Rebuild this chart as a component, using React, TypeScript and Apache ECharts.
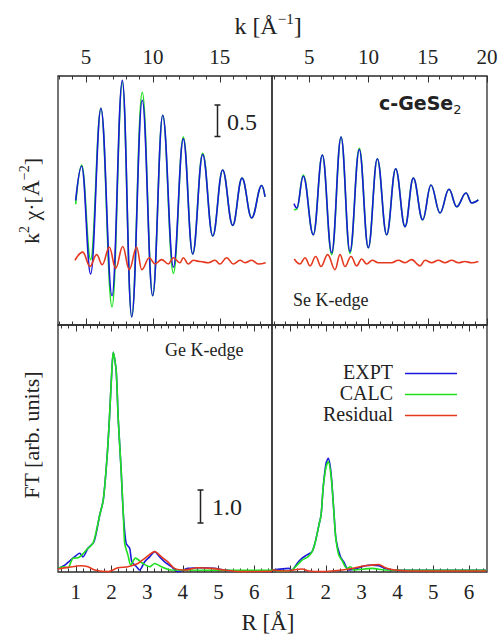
import React, { useEffect, useRef } from "react";
import * as echarts from "echarts";

// ---------- axis ticks / labels ----------
const kTicksLeft = [3, 4, 5, 6, 7, 8, 9, 10, 11, 12, 13, 14, 15, 16, 17, 18];
const kMajorLeft = [5, 10, 15];
const kTicksRight = [2, 3, 4, 5, 6, 7, 8, 9, 10, 11, 12, 13, 14, 15, 16, 17, 18, 19, 20];
const kMajorRight = [5, 10, 15, 20];
const rMajor = [1, 2, 3, 4, 5, 6];
const rMinor = [0.6, 0.8, 1.2, 1.4, 1.6, 1.8, 2.2, 2.4, 2.6, 2.8, 3.2, 3.4, 3.6, 3.8, 4.2, 4.4, 4.6, 4.8, 5.2, 5.4, 5.6, 5.8, 6.2, 6.4];

// ---------- k-space, Ge K-edge ----------
const geK = [4.22, 4.67, 5.34, 6.11, 6.94, 7.71, 8.41, 9.2, 9.98, 10.73, 11.53, 12.27, 12.97, 13.72, 14.47, 15.21, 15.96, 16.66, 17.38, 18.13, 18.38];
const geExpt = [0.0, 0.55, -1.18, 1.48, -1.53, 1.93, -1.87, 1.61, -1.53, 1.37, -1.07, 0.99, -0.86, 0.74, -0.57, 0.49, -0.4, 0.36, -0.28, 0.24, 0.06];
const geCalc = [-0.06, 0.57, -0.95, 1.48, -1.71, 1.9, -1.87, 1.74, -1.53, 1.37, -1.17, 1.02, -0.86, 0.76, -0.57, 0.49, -0.4, 0.36, -0.28, 0.24, 0.06];
const geResK = [4.17, 4.75, 5.29, 5.79, 6.21, 6.74, 7.21, 7.74, 8.23, 8.78, 9.16, 9.73, 10.15, 10.65, 11.15, 11.52, 12.02, 12.27, 12.64, 13.02, 13.52, 14.14, 14.64, 15.01, 15.51, 16.01, 16.51, 16.88, 17.38, 17.88, 18.43];
const geRes = [0.04, 0.17, -0.06, 0.13, -0.03, 0.25, -0.09, 0.26, -0.11, 0.25, -0.11, 0.08, -0.02, 0.05, -0.02, 0.08, 0.0, 0.08, -0.02, 0.04, 0.02, 0.0, 0.04, -0.02, 0.08, -0.02, 0.04, 0.0, 0.04, -0.02, 0.0];

// ---------- k-space, Se K-edge ----------
const seK = [3.71, 3.94, 4.49, 5.34, 6.1, 6.89, 7.68, 8.43, 9.22, 9.98, 10.74, 11.53, 12.29, 13.08, 13.78, 14.57, 15.27, 16.03, 16.79, 17.44, 18.23, 18.71, 19.27];
const seExpt = [-0.05, -0.12, 0.39, -0.55, 0.73, -0.84, 1.02, -0.82, 0.82, -0.76, 0.67, -0.55, 0.51, -0.42, 0.36, -0.31, 0.25, -0.2, 0.18, -0.1, 0.12, -0.04, 0.01];
const seCalc = [-0.15, -0.14, 0.41, -0.55, 0.73, -0.87, 1.02, -0.85, 0.84, -0.76, 0.67, -0.55, 0.51, -0.42, 0.36, -0.31, 0.25, -0.2, 0.18, -0.1, 0.12, -0.04, 0.01];
const seResK = [3.73, 4.21, 4.64, 5.06, 5.54, 5.99, 6.55, 7.17, 7.59, 8.01, 8.52, 9.0, 9.42, 9.84, 10.32, 10.82, 11.39, 11.95, 12.51, 13.08, 13.64, 14.34, 14.77, 15.33, 15.89, 16.45, 17.02, 17.58, 18.14, 18.71, 19.27];
const seRes = [0.06, -0.02, 0.08, -0.05, 0.1, -0.06, 0.13, -0.11, 0.13, -0.06, 0.1, -0.05, 0.06, -0.02, 0.04, 0.0, 0.0, 0.0, 0.04, 0.0, 0.05, -0.05, 0.04, 0.0, 0.04, 0.0, 0.04, 0.0, 0.02, 0.0, 0.02];
const kOffset = 1.0;

// ---------- R-space, Ge K-edge ----------
const ftGeExptR = [0.5, 0.69, 0.92, 1.11, 1.2, 1.34, 1.51, 1.67, 1.77, 1.87, 1.94, 2.01, 2.05, 2.13, 2.19, 2.27, 2.33, 2.41, 2.51, 2.57, 2.7, 2.79, 2.93, 3.07, 3.21, 3.35, 3.49, 3.68, 3.86, 4.14, 4.52, 4.89, 5.17, 5.55, 6.5];
const ftGeExpt = [0.06, 0.16, 0.37, 0.52, 0.41, 0.67, 0.87, 1.68, 2.14, 3.35, 4.57, 6.08, 6.62, 6.08, 4.57, 3.05, 1.73, 0.82, 0.67, 0.26, 0.11, 0.01, 0.26, 0.41, 0.57, 0.41, 0.26, 0.11, -0.04, 0.06, 0.08, 0.06, 0.01, -0.02, -0.03];
const ftGeCalcR = [0.5, 0.64, 0.78, 0.92, 1.06, 1.34, 1.48, 1.57, 1.67, 1.77, 1.87, 1.94, 2.01, 2.05, 2.13, 2.19, 2.27, 2.33, 2.37, 2.46, 2.54, 2.67, 2.88, 3.07, 3.21, 3.4, 3.68, 6.5];
const ftGeCalc = [0.06, 0.11, 0.08, 0.37, 0.38, 0.67, 0.82, 1.17, 1.68, 2.14, 3.35, 4.57, 6.08, 6.62, 6.08, 4.57, 3.05, 1.73, 0.82, 0.47, 0.16, 0.37, 0.21, 0.11, 0.21, 0.11, 0.01, 0.0];
const ftGeResR = [0.5, 0.78, 1.15, 1.34, 1.53, 1.9, 2.18, 2.46, 2.74, 2.94, 3.21, 3.4, 3.58, 3.77, 4.05, 4.42, 4.8, 5.17, 5.64, 6.5];
const ftGeRes = [0.04, 0.09, 0.14, 0.11, 0.01, -0.04, 0.08, 0.11, 0.21, 0.37, 0.57, 0.41, 0.26, 0.06, 0.01, 0.08, 0.06, 0.01, -0.04, -0.03];

// ---------- R-space, Se K-edge ----------
const ftSeExptR = [0.5, 0.97, 1.06, 1.2, 1.34, 1.48, 1.62, 1.71, 1.81, 1.87, 1.93, 2.01, 2.07, 2.15, 2.23, 2.29, 2.41, 2.5, 2.64, 2.87, 3.1, 3.29, 3.48, 3.66, 3.85, 6.47];
const ftSeExpt = [0.01, 0.06, 0.01, 0.21, 0.37, 0.47, 0.57, 0.87, 1.38, 1.68, 2.54, 3.26, 3.4, 2.93, 1.73, 0.92, 0.41, 0.26, 0.01, 0.06, 0.14, 0.16, 0.14, 0.06, 0.01, 0.0];
const ftSeCalcR = [0.5, 0.78, 1.06, 1.2, 1.34, 1.5, 1.62, 1.71, 1.81, 1.87, 1.93, 2.01, 2.07, 2.15, 2.23, 2.27, 2.36, 2.45, 2.59, 2.69, 2.78, 3.29, 3.66, 6.47];
const ftSeCalc = [0.01, -0.02, 0.01, 0.16, 0.31, 0.41, 0.57, 0.87, 1.38, 1.68, 2.54, 3.15, 3.3, 2.84, 1.73, 1.07, 0.47, 0.31, 0.06, 0.11, 0.01, 0.06, 0.01, 0.0];
const ftSeResR = [0.5, 0.87, 1.34, 1.52, 1.9, 2.17, 2.64, 3.1, 3.29, 3.48, 3.66, 3.94, 4.41, 4.97, 6.47];
const ftSeRes = [0.01, -0.02, 0.04, -0.02, -0.04, -0.02, 0.04, 0.14, 0.16, 0.18, 0.08, 0.01, -0.02, -0.02, -0.02];

const legendNames = ["EXPT", "CALC", "Residual"];

const BLUE = "#1a1ad8";
const GREEN = "#1fe01f";
const RED = "#e5391f";
const INK = "#222222";
const SERIF = "Liberation Serif";

const zip = (xs: number[], ys: number[], off = 0) => xs.map((x, i) => [x, ys[i] + off]);

function xAxes(grid: number, min: number, max: number, minor: number[], major: number[], labelPos: "top" | "bottom" | null) {
  const base = (position: "top" | "bottom", ticks: number[], len: number, labels: boolean) => ({
    type: "value",
    gridIndex: grid,
    position,
    min,
    max,
    axisLine: { show: false, onZero: false },
    splitLine: { show: false },
    axisTick: { show: true, inside: true, length: len, customValues: ticks, lineStyle: { color: "#333", width: 1 } },
    axisLabel: labels
      ? { show: true, customValues: major, fontSize: 21, fontFamily: SERIF, color: INK, margin: 9 }
      : { show: false },
  });
  return [
    base("top", minor, 3.5, labelPos === "top"),
    base("top", major, 6.5, false),
    base("bottom", minor, 3.5, labelPos === "bottom"),
    base("bottom", major, 6.5, false),
  ];
}

function line(name: string, xAxisIndex: number, yAxisIndex: number, data: number[][], color: string, top: boolean) {
  return {
    type: "line",
    name,
    xAxisIndex,
    yAxisIndex,
    data,
    symbol: "none",
    showSymbol: false,
    smooth: top ? 0.4 : 0.25,
    smoothMonotone: top ? "x" : undefined,
    lineStyle: { color, width: 1.6 },
    itemStyle: { color },
    clip: true,
  };
}

function scaleBar(x: number, y1: number, y2: number) {
  const s = { stroke: INK, lineWidth: 1.5 };
  return [
    { type: "line", shape: { x1: x, y1, x2: x, y2 }, style: s },
    { type: "line", shape: { x1: x - 3, y1, x2: x + 3, y2: y1 }, style: s },
    { type: "line", shape: { x1: x - 3, y1: y2, x2: x + 3, y2 }, style: s },
  ];
}

export default function App() {
  const ref = useRef<HTMLDivElement>(null);
  useEffect(() => {
    if (!ref.current) return;
    const chart = echarts.init(ref.current, undefined, { renderer: "svg" });
    const gridStyle = { show: true, borderColor: "#2a2a2a", borderWidth: 1.3, backgroundColor: "transparent" };
    const txt = (text: string, x: number, y: number, size: number, align = "left", extra: any = {}) => ({
      type: "text",
      x,
      y,
      z: 10,
      ...extra,
      style: {
        text,
        fill: INK,
        fontSize: size,
        fontFamily: SERIF,
        align,
        verticalAlign: "middle",
        ...(extra.style || {}),
      },
    });
    const legY = [372, 393, 414];
    const option: any = {
      animation: false,
      backgroundColor: "#ffffff",
      grid: [
        { left: 58, top: 76, width: 214, height: 249, ...gridStyle },
        { left: 272, top: 76, width: 215, height: 249, ...gridStyle },
        { left: 58, top: 325, width: 214, height: 247, ...gridStyle },
        { left: 272, top: 325, width: 215, height: 247, ...gridStyle },
      ],
      xAxis: [
        ...xAxes(0, 2.9, 18.9, kTicksLeft, kMajorLeft, "top"),
        ...xAxes(1, 1.85, 20, kTicksRight, kMajorRight, "top"),
        ...xAxes(2, 0.5, 6.5, rMinor, rMajor, "bottom"),
        ...xAxes(3, 0.5, 6.5, rMinor, rMajor, "bottom"),
      ],
      yAxis: [
        { type: "value", gridIndex: 0, min: -1, max: 3, show: false },
        { type: "value", gridIndex: 1, min: -1, max: 3, show: false },
        { type: "value", gridIndex: 2, min: -0.05, max: 7.45, show: false },
        { type: "value", gridIndex: 3, min: -0.05, max: 7.45, show: false },
      ],
      series: [
        line(legendNames[1], 0, 0, zip(geK, geCalc, kOffset), GREEN, true),
        line(legendNames[0], 0, 0, zip(geK, geExpt, kOffset), BLUE, true),
        line(legendNames[2], 0, 0, zip(geResK, geRes), RED, true),
        line(legendNames[1], 4, 1, zip(seK, seCalc, kOffset), GREEN, true),
        line(legendNames[0], 4, 1, zip(seK, seExpt, kOffset), BLUE, true),
        line(legendNames[2], 4, 1, zip(seResK, seRes), RED, true),
        line(legendNames[0], 8, 2, zip(ftGeExptR, ftGeExpt), BLUE, false),
        line(legendNames[1], 8, 2, zip(ftGeCalcR, ftGeCalc), GREEN, false),
        line(legendNames[2], 8, 2, zip(ftGeResR, ftGeRes), RED, false),
        line(legendNames[0], 12, 3, zip(ftSeExptR, ftSeExpt), BLUE, false),
        line(legendNames[1], 12, 3, zip(ftSeCalcR, ftSeCalc), GREEN, false),
        line(legendNames[2], 12, 3, zip(ftSeResR, ftSeRes), RED, false),
      ],
      graphic: [
        txt("k [Å{sup|−1}]", 268, 26, 24, "center", {
          style: { rich: { sup: { fontSize: 15, fontFamily: SERIF, fill: INK, verticalAlign: "top" } }, lineHeight: 30 },
        }),
        txt("R [Å]", 268, 622, 23, "center"),
        txt("k{sup|2} χ·[Å{sup|−2}]", 31, 201, 22, "center", {
          rotation: Math.PI / 2,
          style: { rich: { sup: { fontSize: 14, fontFamily: SERIF, fill: INK, verticalAlign: "top" } }, lineHeight: 28 },
        }),
        txt("FT [arb. units]", 31, 435, 22, "center", { rotation: Math.PI / 2 }),
        ...scaleBar(217.5, 105, 136.5),
        txt("0.5", 227, 122, 24),
        ...scaleBar(200.5, 490, 523),
        txt("1.0", 212, 507, 24),
        txt("c-GeSe{sub|2}", 379, 103, 19, "left", {
          style: {
            fontFamily: "DejaVu Sans",
            fontWeight: "bold",
            lineHeight: 26,
            rich: { sub: { fontSize: 13, fontFamily: "DejaVu Sans", fill: INK, verticalAlign: "bottom", lineHeight: 13 } },
          },
        }),
        txt("Se K-edge", 293, 300, 18),
        txt("Ge K-edge", 165, 350, 18),
        txt(legendNames[0], 393, legY[0], 20, "right", { style: { lineHeight: 20 } }),
        txt(legendNames[1], 393, legY[1], 20, "right", { style: { lineHeight: 20 } }),
        txt(legendNames[2], 393, legY[2], 20, "right", { style: { lineHeight: 20 } }),
        { type: "line", shape: { x1: 405, y1: legY[0] + 1.5, x2: 457, y2: legY[0] + 1.5 }, style: { stroke: BLUE, lineWidth: 1.6 } },
        { type: "line", shape: { x1: 405, y1: legY[1] + 1.5, x2: 457, y2: legY[1] + 1.5 }, style: { stroke: GREEN, lineWidth: 1.6 } },
        { type: "line", shape: { x1: 405, y1: legY[2] + 1.5, x2: 457, y2: legY[2] + 1.5 }, style: { stroke: RED, lineWidth: 1.6 } },
      ],
    };
    chart.setOption(option);
    return () => chart.dispose();
  }, []);
  return <div ref={ref} style={{ position: "fixed", left: 0, top: 0, width: 502, height: 636 }} />;
}
